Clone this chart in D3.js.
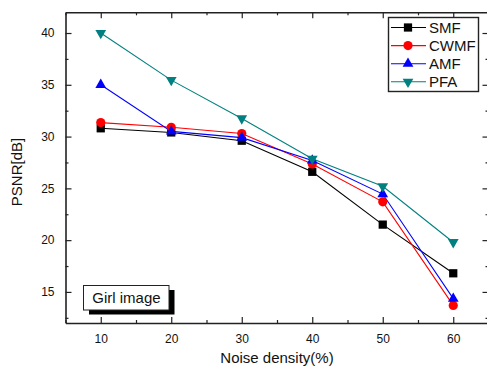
<!DOCTYPE html>
<html><head><meta charset="utf-8">
<script src="https://cdn.jsdelivr.net/npm/d3@7"></script>
<style>body{margin:0;background:#fff}svg{display:block;font-family:Arial,"Liberation Sans",sans-serif}</style>
</head><body><svg id="c" width="487" height="369"></svg>
<script>
const noise = [10, 20, 30, 40, 50, 60];
const smf  = [30.8, 30.4, 29.6, 26.6, 21.5, 16.8];
const cwmf = [31.35, 30.9, 30.3, 27.35, 23.7, 13.7];
const amf  = [35.0, 30.5, 29.9, 27.7, 24.45, 14.35];
const pfa  = [40.0, 35.45, 31.75, 27.85, 25.2, 19.8];
const seriesNames = ["SMF", "CWMF", "AMF", "PFA"];
const xTicks = [10, 20, 30, 40, 50, 60];
const yTicks = [15, 20, 25, 30, 35, 40];

const series = [
  {name: seriesNames[0], values: smf,  color: "#000000", sym: d3.symbolSquare, size: 68, rot: 0},
  {name: seriesNames[1], values: cwmf, color: "#ff0000", sym: d3.symbolCircle, size: 66, rot: 0},
  {name: seriesNames[2], values: amf,  color: "#0000ff", sym: d3.symbolTriangle, size: 50, rot: 0},
  {name: seriesNames[3], values: pfa,  color: "#008080", sym: d3.symbolTriangle, size: 50, rot: 180}
];

const svg = d3.select("#c");
const L = 65.5, R = 488.5, T = 12.3, B = 323;
const x = d3.scaleLinear().domain([5, 65]).range([L, R]);
const y = d3.scaleLinear().domain([12, 42]).range([B, T]);

const minorX = d3.range(5, 66, 5).filter(v => v % 10 !== 0);
const minorY = d3.range(12.5, 42, 2.5).filter(v => v % 5 !== 0);

function axis(gen, tr, major, minor, labels) {
  const g = svg.append("g").attr("transform", tr);
  g.call(gen.tickValues(major).tickSizeInner(-6).tickSizeOuter(0).tickFormat(labels ? d3.format("d") : ""));
  g.select(".domain").attr("stroke", "#222").attr("stroke-width", 1.6);
  g.selectAll(".tick line").attr("stroke", "#222").attr("stroke-width", 1.2);
  g.selectAll(".tick text").attr("font-size", 12).attr("fill", "#111").attr("font-family", "Arial, 'Liberation Sans', sans-serif");
  const g2 = svg.append("g").attr("transform", tr);
  g2.call(gen.tickValues(minor).tickSizeInner(-3).tickSizeOuter(0).tickFormat(""));
  g2.select(".domain").remove();
  g2.selectAll(".tick line").attr("stroke", "#222").attr("stroke-width", 1.2);
  return g;
}
const gb = axis(d3.axisBottom(x), `translate(0,${B})`, xTicks, minorX, true);
gb.selectAll(".tick text").attr("dy", null).attr("y", 20);
axis(d3.axisTop(x), `translate(0,${T})`, xTicks, minorX, false);
const gl = axis(d3.axisLeft(y), `translate(${L},0)`, yTicks, minorY, true);
gl.selectAll(".tick text").attr("x", -11);
axis(d3.axisRight(y), `translate(${R},0)`, yTicks, minorY, false);

// axis titles
svg.append("text").attr("x", 277).attr("y", 363).attr("text-anchor", "middle")
  .attr("font-size", 15).attr("fill", "#111").text("Noise density(%)");
svg.append("text").attr("transform", "translate(22,172) rotate(-90)").attr("text-anchor", "middle")
  .attr("font-size", 15).attr("fill", "#111").text("PSNR[dB]");

// lines and markers
const line = d3.line().x((d, i) => x(noise[i])).y(d => y(d));
series.forEach(s => {
  svg.append("path").datum(s.values).attr("d", line).attr("fill", "none")
    .attr("stroke", s.color).attr("stroke-width", 1.1);
});
series.forEach(s => {
  svg.selectAll(null).data(s.values).enter().append("path")
    .attr("d", d3.symbol().type(s.sym).size(s.size))
    .attr("transform", (d, i) => `translate(${x(noise[i])},${y(d)}) rotate(${s.rot})`)
    .attr("fill", s.color);
});

// legend
const lg = svg.append("g");
lg.append("rect").attr("x", 388.5).attr("y", 17.5).attr("width", 90).attr("height", 74)
  .attr("fill", "#fff").attr("stroke", "#222").attr("stroke-width", 1.4);
series.forEach((s, i) => {
  const yy = 27.5 + i * 18.1;
  lg.append("line").attr("x1", 391).attr("x2", 426).attr("y1", yy).attr("y2", yy)
    .attr("stroke", s.color).attr("stroke-width", 1.1);
  lg.append("path").attr("d", d3.symbol().type(s.sym).size(s.size))
    .attr("transform", `translate(408,${yy}) rotate(${s.rot})`).attr("fill", s.color);
  lg.append("text").attr("x", 429).attr("y", yy + 5.4).attr("font-size", 15).attr("fill", "#111").text(s.name);
});

// Girl image box with shadow
svg.append("rect").attr("x", 89).attr("y", 290).attr("width", 85.5).attr("height", 24.5).attr("fill", "#000");
svg.append("rect").attr("x", 83.5).attr("y", 285.5).attr("width", 85.5).attr("height", 24.5)
  .attr("fill", "#fff").attr("stroke", "#222").attr("stroke-width", 1);
svg.append("text").attr("x", 92.3).attr("y", 303.3).attr("font-size", 15).attr("fill", "#111").text("Girl image");
</script></body></html>
